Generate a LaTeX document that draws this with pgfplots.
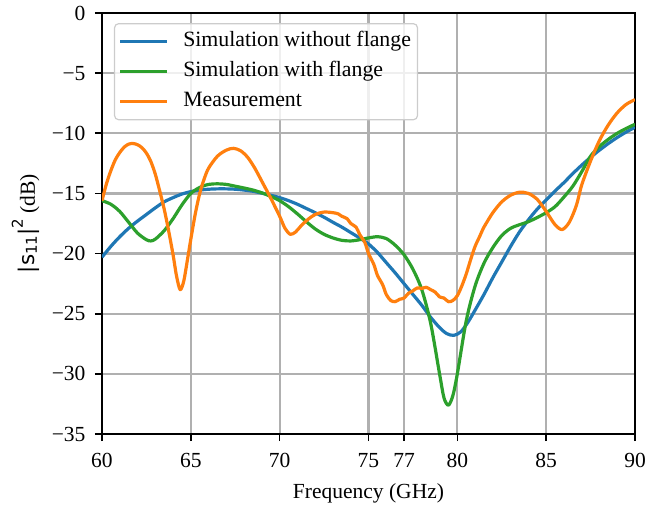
\documentclass[border=0pt]{standalone}
\usepackage{fontspec}
\setmainfont{Liberation Serif}
\newfontfamily\dejavu{DejaVu Sans}
\usepackage{pgfplots}
\pgfplotsset{compat=1.18}

\definecolor{tabblue}{HTML}{1F77B4}
\definecolor{taborange}{HTML}{FF7F0E}
\definecolor{tabgreen}{HTML}{2CA02C}
\definecolor{gridgray}{HTML}{B0B0B0}
\definecolor{legframe}{HTML}{CCCCCC}

\newcommand{\mainsize}{\fontsize{21.5}{25}\selectfont}
\newcommand{\legsize}{\fontsize{21.8}{25}\selectfont}
\newcommand{\scriptsz}{\fontsize{15}{15}\selectfont}

\begin{document}
\begin{tikzpicture}[font=\mainsize]
\useasboundingbox (-102pt,-73pt) rectangle (560pt,434pt);
\begin{axis}[
  scale only axis,
  width=533pt, height=421pt,
  xmin=60, xmax=90, ymin=-35, ymax=0,
  xtick={60,65,70,75,77,80,85,90},
  ytick={-35,-30,-25,-20,-15,-10,-5,0},
  yticklabels={−35,−30,−25,−20,−15,−10,−5,0},
  /pgf/number format/assume math mode=true,
  tick align=outside,
  tick pos=left,
  major tick length=7pt,
  every tick/.style={black, line width=1.6pt},
  axis line style={black, line width=2pt},
  grid=major,
  major grid style={gridgray, line width=2.2pt},
  tick label style={font=\mainsize},
  xticklabel style={yshift=-9pt},
  yticklabel style={xshift=-6pt},
  label style={font=\mainsize},
  xlabel={Frequency (GHz)},
  xlabel style={yshift=-9pt},
  ylabel={{\dejavu |s\raisebox{-2pt}{\scriptsz 11}|\raisebox{12pt}{\scriptsz 2}} (dB)},
  ylabel style={yshift=5pt},
  legend cell align=left,
  legend image code/.code={\draw[#1, line width=3.2pt] (0pt,0pt) -- (47pt,0pt);
                           \path (59pt,0pt);},
  legend style={at={(0.0225,0.976)}, anchor=north west,
    font=\legsize,
    fill=white, fill opacity=0.8, text opacity=1,
    draw=legframe, line width=1.2pt, rounded corners=4pt,
    inner xsep=4pt, inner ysep=5.5pt, row sep=5pt,
    nodes={text height=15pt, text depth=5pt, inner sep=2.5pt}},
  every axis plot/.append style={line width=3.2pt, line join=round},
]
% simulated reflection, no flange
\addplot[tabblue, smooth] coordinates {
(60,-20.3) (60.5,-19.4) (61,-18.6) (61.5,-17.9) (62,-17.3) (62.5,-16.75)
(63,-16.2) (63.5,-15.7) (64,-15.35) (64.5,-15.05) (65,-14.85) (65.5,-14.72)
(66,-14.65) (66.5,-14.62) (67,-14.62) (67.5,-14.65) (68,-14.72) (68.5,-14.82)
(69,-14.98) (69.5,-15.15) (70,-15.35) (70.5,-15.6) (71,-15.9) (71.5,-16.25)
(72,-16.6) (72.5,-16.98) (73,-17.4) (73.5,-17.8) (74,-18.25) (74.5,-18.7)
(75,-19.2) (75.5,-19.9) (76,-20.75) (76.5,-21.6) (77,-22.5) (77.5,-23.4)
(78,-24.3) (78.5,-25.3) (79,-26.15) (79.4,-26.65) (79.8,-26.8) (80.2,-26.5)
(80.6,-25.7) (81,-24.7) (81.5,-23.4) (82,-22.0) (82.5,-20.7) (83,-19.4)
(83.5,-18.2) (84,-17.2) (84.5,-16.3) (85,-15.55) (85.5,-14.8) (86,-14.1)
(86.5,-13.35) (87,-12.65) (87.5,-12.0) (88,-11.4) (88.5,-10.85) (89,-10.35)
(89.5,-9.9) (90,-9.5)
};
\addlegendentry{Simulation without flange}
% simulated reflection, with flange
\addplot[tabgreen, smooth] coordinates {
(60,-15.6) (60.5,-15.9) (61,-16.5) (61.5,-17.4) (62,-18.3) (62.5,-18.85)
(62.75,-18.95) (63,-18.8) (63.5,-18.1) (64,-17.1) (64.5,-15.95) (65,-15.0)
(65.5,-14.5) (66,-14.25) (66.5,-14.2) (67,-14.25) (67.5,-14.4) (68,-14.55)
(68.5,-14.72) (69,-14.95) (69.5,-15.25) (70,-15.6) (70.5,-16.1) (71,-16.7)
(71.5,-17.35) (72,-17.95) (72.5,-18.4) (73,-18.7) (73.5,-18.9) (74,-18.95)
(74.5,-18.85) (75,-18.7) (75.5,-18.6) (76,-18.75) (76.5,-19.3) (77,-20.1)
(77.5,-21.3) (78,-23.0) (78.5,-25.8) (79,-30.0) (79.25,-32.0) (79.5,-32.6)
(79.75,-31.8) (80,-30.0) (80.5,-25.6) (81,-22.7) (81.5,-20.8) (82,-19.5)
(82.5,-18.5) (83,-17.9) (83.5,-17.6) (84,-17.35) (84.5,-17.0) (85,-16.6)
(85.5,-16.1) (86,-15.3) (86.5,-14.4) (87,-13.2) (87.5,-11.9) (88,-11.1)
(88.5,-10.5) (89,-10.0) (89.5,-9.6) (90,-9.25)
};
\addlegendentry{Simulation with flange}
% measured reflection
\addplot[taborange, smooth] coordinates {
(60,-15.6) (60.25,-14.2) (60.5,-13.1) (60.75,-12.2) (61,-11.6) (61.25,-11.15)
(61.5,-10.9) (61.75,-10.85) (62,-10.95) (62.25,-11.2) (62.5,-11.65) (62.75,-12.35)
(63,-13.4) (63.25,-14.8) (63.5,-16.3) (63.75,-18.1) (64,-20.1) (64.2,-21.9)
(64.4,-23.0) (64.6,-22.3) (64.8,-20.6) (65,-18.8) (65.25,-16.7) (65.5,-15.0)
(65.75,-13.8) (66,-12.9) (66.5,-11.9) (67,-11.4) (67.4,-11.25) (67.8,-11.45)
(68.2,-12.0) (68.6,-12.9) (69,-14.0) (69.5,-15.4) (70,-16.9) (70.3,-17.9)
(70.6,-18.4) (70.9,-18.2) (71.2,-17.7) (71.6,-17.15) (72,-16.75) (72.5,-16.55)
(73,-16.6) (73.3,-16.7) (73.5,-16.9) (73.8,-17.1) (74,-17.5) (74.3,-17.8)
(74.5,-18.4) (74.8,-19.1) (75,-20.0) (75.3,-20.9) (75.5,-21.8) (75.8,-22.6)
(76,-23.4) (76.25,-23.9) (76.5,-24.0) (76.75,-23.8) (77,-23.7) (77.25,-23.3)
(77.5,-23.1) (77.75,-22.85) (78,-22.9) (78.25,-22.8) (78.5,-23.0) (78.75,-23.2)
(79,-23.6) (79.25,-23.7) (79.5,-24.0) (79.75,-23.9) (80,-23.5) (80.25,-22.7)
(80.5,-21.7) (80.75,-20.5) (81,-19.4) (81.25,-18.6) (81.5,-17.8) (82,-16.6)
(82.5,-15.7) (83,-15.15) (83.5,-14.9) (84,-15.0) (84.5,-15.5) (85,-16.5)
(85.5,-17.6) (85.9,-18.0) (86.3,-17.4) (86.7,-16.0) (87,-14.3) (87.5,-12.3)
(88,-10.6) (88.5,-9.3) (89,-8.3) (89.5,-7.6) (90,-7.2)
};
\addlegendentry{Measurement}
\end{axis}
\end{tikzpicture}
\end{document}
